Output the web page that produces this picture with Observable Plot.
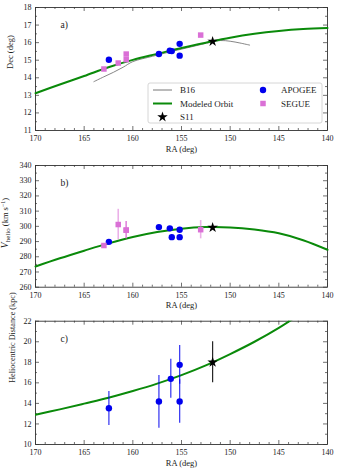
<!DOCTYPE html>
<html><head><meta charset="utf-8">
<script src="https://cdn.jsdelivr.net/npm/d3@7"></script>
<script src="https://cdn.jsdelivr.net/npm/@observablehq/plot@0.6"></script>
<style>
body{margin:0;background:#fff;}
#chart{width:337px;}
#chart svg{display:block;overflow:visible;}
</style></head><body><div id="chart"></div>
<script>
// ---- data ----
const orbitRA     = [170, 167.5, 165, 162.5, 160, 157.5, 155, 152.5, 150, 147.5, 145, 142.5, 140];
const orbitDec    = [13.12, 13.62, 14.10, 14.60, 15.02, 15.36, 15.70, 16.00, 16.28, 16.50, 16.66, 16.77, 16.83];
const orbitVhelio = [273.6, 279.0, 284.0, 288.8, 293.0, 296.3, 298.5, 299.5, 299.3, 297.9, 295.4, 290.9, 284.6];
const orbitDist   = [12.89, 13.42, 13.98, 14.55, 15.20, 15.92, 16.75, 17.70, 18.80, 20.00, 21.35, 22.90, 24.60];

const b16RA  = [164.0, 163.0, 162.0, 161.0, 160.0, 158.0, 156.0, 154.0, 152.0, 151.0, 150.0, 149.0, 148.0];
const b16Dec = [13.78, 14.05, 14.31, 14.60, 14.92, 15.22, 15.50, 15.76, 16.02, 16.12, 16.08, 15.98, 15.86];

const apogeeRA     = [162.46, 157.32, 156.2, 156.0, 155.19, 155.19];
const apogeeDec    = [15.03, 15.35, 15.54, 15.52, 15.93, 15.26];
const apogeeVhelio = [289.8, 299.5, 298.7, 292.9, 297.8, 292.9];

const apogeeDistRA = [162.46, 157.32, 156.1, 155.19, 155.19];
const apogeeDist   = [13.53, 14.18, 16.39, 17.75, 14.18];
const apogeeDistLo = [11.85, 11.59, 14.51, 15.87, 12.07];
const apogeeDistHi = [15.16, 16.71, 18.30, 19.63, 16.29];

const segueRA     = [162.97, 161.5, 160.68, 160.68, 153.03];
const segueDec    = [14.50, 14.84, 15.35, 15.03, 16.43];
const segueVhelio = [287.4, 301.2, 297.5, 297.5, 297.8];
const segueVerr   = [1.0, 10.0, 5.7, 5.7, 6.0];

const s11RA = [151.8], s11Dec = [16.07], s11Vhelio = [299.2], s11Dist = [18.0], s11DistErr = [2.0];

const raTicks   = [170, 165, 160, 155, 150, 145, 140];
const decTicks  = [11, 12, 13, 14, 15, 16, 17, 18];
const vTicks    = [260, 270, 280, 290, 300, 310, 320, 330, 340];
const distTicks = [10, 12, 14, 16, 18, 20, 22];

// ---- helpers ----
const W = 337, ML = 35, MR = 10;
const FONT = "'Liberation Serif', 'Times New Roman', serif";
const AX = "#333";
const BLUE = "#0000ee", VIOLET = "orchid", GREEN = "#0a8a0a";
const raMinor = d3.range(140, 171, 1).filter(v => !raTicks.includes(v));
const idx = a => a.map((_, i) => i);
const fmt = d => String(d);

function frameMarks(h, mt, mb, yMajor, yMinor) {
  const fh = h - mt - mb, fw = W - ML - MR;
  const rx = (t, len, top) => Plot.ruleX(t, {x: d => d, stroke: AX, strokeWidth: 0.7,
      [top ? "insetBottom" : "insetTop"]: fh - len});
  const ry = (t, len, right) => Plot.ruleY(t, {y: d => d, stroke: AX, strokeWidth: 0.7,
      [right ? "insetLeft" : "insetRight"]: fw - len});
  return [
    rx(raTicks, 4, false), rx(raMinor, 2, false), rx(raTicks, 4, true), rx(raMinor, 2, true),
    ry(yMajor, 4, false), ry(yMinor, 2, false), ry(yMajor, 4, true), ry(yMinor, 2, true),
    Plot.frame({stroke: AX, strokeWidth: 0.9}),
    Plot.axisX({ticks: raTicks, tickFormat: fmt, tickSize: 0, tickPadding: 5, label: null, fontSize: 8}),
    Plot.axisY({ticks: yMajor, tickFormat: fmt, tickSize: 0, tickPadding: 4, label: null, fontSize: 8}),
    Plot.text(["RA (deg)"], {text: d => d, frameAnchor: "bottom", dy: 21, fontSize: 8.5, fill: "#222"})
  ];
}

function base(h, mt, mb, ydom) {
  return {width: W, height: h, marginLeft: ML, marginRight: MR, marginTop: mt, marginBottom: mb,
    x: {domain: [170, 140]}, y: {domain: ydom},
    style: {fontFamily: FONT, fontSize: "8px", color: "#222", background: "white"}};
}

// ---- panel a ----
const hA = 155, mtA = 7, mbA = 25;
const plotA = Plot.plot({
  ...base(hA, mtA, mbA, [11, 18]),
  marks: [
    ...frameMarks(hA, mtA, mbA, decTicks, decTicks.slice(0, -1).map(v => v + 0.5)),
    Plot.line(idx(b16RA), {x: i => b16RA[i], y: i => b16Dec[i], stroke: "#777", strokeWidth: 0.9, curve: "catmull-rom"}),
    Plot.line(idx(orbitRA), {x: i => orbitRA[i], y: i => orbitDec[i], stroke: GREEN, strokeWidth: 2, curve: "catmull-rom"}),
    Plot.dot(idx(apogeeRA), {x: i => apogeeRA[i], y: i => apogeeDec[i], r: 3.2, fill: BLUE}),
    Plot.dot(idx(segueRA), {x: i => segueRA[i], y: i => segueDec[i], r: 3.1, symbol: "square", fill: VIOLET}),
    Plot.dot(idx(s11RA), {x: i => s11RA[i], y: i => s11Dec[i], r: 3.3, symbol: "star", fill: "black"}),
    Plot.text(["a)"], {text: d => d, frameAnchor: "top-left", dx: 25, dy: 14, fontSize: 9.5, fill: "#222"}),
    Plot.text(["Dec (deg)"], {text: d => d, frameAnchor: "left", dx: -25, rotate: -90, fontSize: 8.5, fill: "#222"})
  ]
});

// legend for panel a
{
  const g = d3.select(plotA).append("g").attr("font-family", FONT).attr("font-size", 9)
    .attr("fill", "#222").attr("text-anchor", "start");
  g.append("rect").attr("x", 148).attr("y", 83).attr("width", 174).attr("height", 40).attr("rx", 2)
    .attr("fill", "white").attr("fill-opacity", 0.85).attr("stroke", "#ccc").attr("stroke-width", 0.8);
  const rows = [90, 103.5, 117];
  g.append("line").attr("x1", 153).attr("x2", 172).attr("y1", rows[0]).attr("y2", rows[0]).attr("stroke", "#777").attr("stroke-width", 1);
  g.append("line").attr("x1", 153).attr("x2", 172).attr("y1", rows[1]).attr("y2", rows[1]).attr("stroke", GREEN).attr("stroke-width", 2);
  g.append("path").attr("d", d3.symbol(d3.symbolStar, 3.3 * 3.3 * Math.PI)()).attr("transform", `translate(162.5,${rows[2]})`).attr("fill", "black");
  g.append("circle").attr("cx", 263).attr("cy", rows[0]).attr("r", 3.2).attr("fill", BLUE);
  g.append("path").attr("d", d3.symbol(d3.symbolSquare, 3.1 * 3.1 * Math.PI)()).attr("transform", `translate(263,${rows[1]})`).attr("fill", VIOLET);
  [["B16", 180, rows[0]], ["Modeled Orbit", 180, rows[1]], ["S11", 180, rows[2]], ["APOGEE", 281, rows[0]], ["SEGUE", 281, rows[1]]]
    .forEach(([t, x, y]) => g.append("text").attr("x", x).attr("y", y).attr("dy", "0.35em").attr("text-anchor", "start").text(t));
}

// ---- panel b ----
const hB = 158, mtB = 10, mbB = 26.3;
const plotB = Plot.plot({
  ...base(hB, mtB, mbB, [260, 340]),
  marks: [
    ...frameMarks(hB, mtB, mbB, vTicks, vTicks.slice(0, -1).map(v => v + 5)),
    Plot.line(idx(orbitRA), {x: i => orbitRA[i], y: i => orbitVhelio[i], stroke: GREEN, strokeWidth: 2, curve: "catmull-rom"}),
    Plot.ruleX(idx(segueRA), {x: i => segueRA[i], y1: i => segueVhelio[i] - segueVerr[i], y2: i => segueVhelio[i] + segueVerr[i], stroke: VIOLET, strokeOpacity: 0.55, strokeWidth: 1.6}),
    Plot.dot(idx(apogeeRA), {x: i => apogeeRA[i], y: i => apogeeVhelio[i], r: 3.2, fill: BLUE}),
    Plot.dot(idx(segueRA), {x: i => segueRA[i], y: i => segueVhelio[i], r: 3.1, symbol: "square", fill: VIOLET}),
    Plot.dot(idx(s11RA), {x: i => s11RA[i], y: i => s11Vhelio[i], r: 3.3, symbol: "star", fill: "black"}),
    Plot.text(["b)"], {text: d => d, frameAnchor: "top-left", dx: 25, dy: 14, fontSize: 9.5, fill: "#222"})
  ]
});
{
  const t = d3.select(plotB).append("text").attr("font-family", FONT).attr("font-size", 8.5).attr("fill", "#222")
    .attr("text-anchor", "middle").attr("transform", "translate(8,68) rotate(-90)");
  t.append("tspan").attr("font-style", "italic").attr("font-size", 9.5).text("V");
  t.append("tspan").attr("font-size", 7).attr("dy", 2).text("helio");
  t.append("tspan").attr("dy", -2).text(" (km s");
  t.append("tspan").attr("font-size", 6).attr("dy", -3).text("−1");
  t.append("tspan").attr("dy", 3).text(")");
}

// ---- panel c ----
const hC = 160, mtC = 7.7, mbC = 29;
const plotC = Plot.plot({
  ...base(hC, mtC, mbC, [10, 22]),
  marks: [
    ...frameMarks(hC, mtC, mbC, distTicks, distTicks.slice(0, -1).map(v => v + 1)),
    Plot.line(idx(orbitRA), {x: i => orbitRA[i], y: i => orbitDist[i], stroke: GREEN, strokeWidth: 2, curve: "catmull-rom", clip: true}),
    Plot.ruleX(idx(apogeeDistRA), {x: i => apogeeDistRA[i], y1: i => apogeeDistLo[i], y2: i => apogeeDistHi[i], stroke: BLUE, strokeOpacity: 0.75, strokeWidth: 1.3}),
    Plot.ruleX(idx(s11RA), {x: i => s11RA[i], y1: i => s11Dist[i] - s11DistErr[i], y2: i => s11Dist[i] + s11DistErr[i], stroke: "#111", strokeWidth: 1.1}),
    Plot.dot(idx(apogeeDistRA), {x: i => apogeeDistRA[i], y: i => apogeeDist[i], r: 3.2, fill: BLUE}),
    Plot.dot(idx(s11RA), {x: i => s11RA[i], y: i => s11Dist[i], r: 3.3, symbol: "star", fill: "black"}),
    Plot.text(["c)"], {text: d => d, frameAnchor: "top-left", dx: 25, dy: 14, fontSize: 9.5, fill: "#222"}),
    Plot.text(["Heliocentric Distance (kpc)"], {text: d => d, frameAnchor: "left", dx: -23, rotate: -90, fontSize: 8.2, fill: "#222"})
  ]
});

const root = document.getElementById("chart");
root.append(plotA, plotB, plotC);
</script></body></html>
